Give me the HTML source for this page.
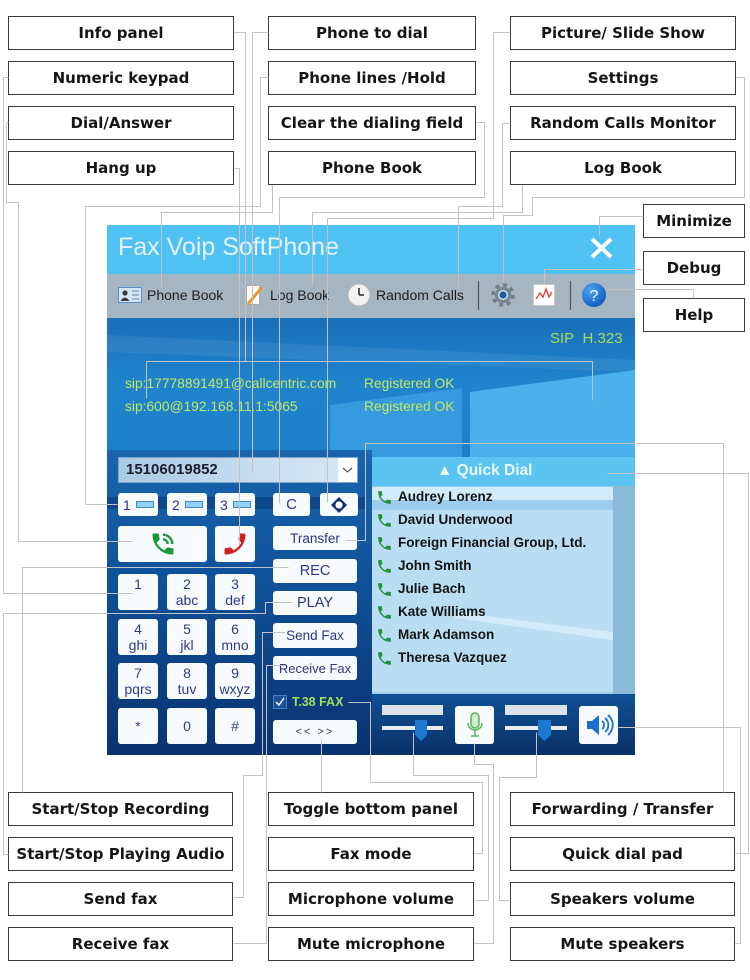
<!DOCTYPE html>
<html><head><meta charset="utf-8">
<style>
*{margin:0;padding:0;box-sizing:border-box}
body{width:750px;height:980px;position:relative;overflow:hidden;background:#fff;font-family:"Liberation Sans",sans-serif}
.lb{position:absolute;height:34px;border:1px solid #3a3a3a;background:#fff;font:bold 15px "DejaVu Sans",sans-serif;color:#151515;display:flex;align-items:center;justify-content:center;white-space:nowrap}
.a{position:absolute;white-space:nowrap}
.btn{position:absolute;background:#f8fbfd;border-radius:3px;color:#2a3787;font-size:14px;display:flex;align-items:center;justify-content:center;white-space:nowrap}
.key{position:absolute;width:40px;height:36px;background:#f8fbfd;border-radius:3px;color:#2c3a8e;font-size:14px;line-height:16px;text-align:center;padding-top:2px}
.kc{display:flex;align-items:center;justify-content:center;padding-top:0}
.lr{display:inline-block;width:18px;height:7px;background:#92d2f6;border:1px solid #3d8dd0;margin-left:5px}
.qd{position:absolute;left:376px;font:bold 13.5px "Liberation Sans",sans-serif;letter-spacing:0;color:#141414;line-height:16px;height:16px;display:flex;align-items:center}
.qd svg{margin-right:5px}
.tb{position:absolute;top:288px;font-size:14px;line-height:14px;color:#1e1e1e}
.sip{position:absolute;font-size:13.8px;line-height:14px;color:#c4e860}
</style></head><body>

<svg class="a" style="left:0;top:0" width="750" height="980">
<defs>
<linearGradient id="gm" x1="0" y1="0" x2="0" y2="1">
<stop offset="0" stop-color="#1a6fb9"/><stop offset="0.15" stop-color="#1f84cd"/><stop offset="0.33" stop-color="#1d7fc8"/><stop offset="0.55" stop-color="#145fa8"/><stop offset="0.8" stop-color="#0d4588"/><stop offset="1" stop-color="#0a336d"/>
</linearGradient>
<linearGradient id="gl" x1="0" y1="0" x2="0" y2="1">
<stop offset="0" stop-color="#1866ae"/><stop offset="0.45" stop-color="#0f5098"/><stop offset="1" stop-color="#0a3270"/>
</linearGradient>
<linearGradient id="gb" x1="0" y1="0" x2="0" y2="1">
<stop offset="0" stop-color="#0f5096"/><stop offset="1" stop-color="#0a3168"/>
</linearGradient>
<radialGradient id="gh" cx="0.35" cy="0.3" r="0.7">
<stop offset="0" stop-color="#4aa6f0"/><stop offset="1" stop-color="#1160c0"/>
</radialGradient>
</defs>
<rect x="107" y="225" width="528" height="49" fill="#4fc1f3"/>
<rect x="107" y="274" width="528" height="44" fill="#a6b5c2"/>
<rect x="107" y="318" width="528" height="437" fill="url(#gm)"/>
<polygon points="107,335 635,360 635,372 107,352" fill="#ffffff" opacity="0.07"/>
<polygon points="330,405 462,388 462,457 330,457" fill="#3a9fe2" opacity="0.85"/>
<polygon points="470,392 635,370 635,457 470,457" fill="#4ab1ec"/>
<rect x="107" y="450" width="265" height="305" fill="url(#gl)"/>
<rect x="107" y="497" width="258" height="12" fill="#0a3a7a" opacity="0.6"/>
<rect x="372" y="457" width="263" height="29" fill="#5bc4f1"/>
<rect x="372" y="486" width="263" height="208" fill="#9ccdec"/>
<rect x="372" y="487" width="241" height="13" fill="#d2ebf8"/>
<rect x="372" y="510" width="241" height="182" fill="#b9def4"/>
<polygon points="455,612 613,632 613,640 455,618" fill="#e6f5fc" opacity="0.6"/>
<rect x="613" y="486" width="22" height="208" fill="#8bb9da"/>
<rect x="372" y="694" width="263" height="61" fill="url(#gb)"/>
<line x1="592" y1="239" x2="611" y2="257" stroke="#fff" stroke-width="4"/>
<line x1="611" y1="239" x2="592" y2="257" stroke="#fff" stroke-width="4"/>
<rect x="118.5" y="287.5" width="23" height="15" fill="#d3e6f7" stroke="#5b8fc6"/>
<circle cx="125" cy="293" r="2.6" fill="#3b3b3b"/><path d="M120.5 301 q4.5 -7 9 0z" fill="#3b3b3b"/>
<line x1="132" y1="291" x2="139" y2="291" stroke="#6a86a8"/><line x1="132" y1="295" x2="139" y2="295" stroke="#6a86a8"/><line x1="132" y1="299" x2="139" y2="299" stroke="#6a86a8"/>
<rect x="246.5" y="285.5" width="13" height="19" fill="#fdfdfd" stroke="#a9a9a9"/>
<line x1="248" y1="304" x2="262" y2="287" stroke="#e79a2a" stroke-width="3"/>
<circle cx="359" cy="295" r="11" fill="#f2f2f2" stroke="#b9b9b9"/>
<line x1="359" y1="295" x2="359" y2="288" stroke="#333" stroke-width="1.6"/><line x1="359" y1="295" x2="364" y2="295" stroke="#333" stroke-width="1.6"/>
<line x1="478.5" y1="281" x2="478.5" y2="310" stroke="#4c5560" stroke-width="1.2"/>
<circle cx="503" cy="295" r="10" fill="none" stroke="#6f7c88" stroke-width="3.5" stroke-dasharray="3.8 4"/>
<circle cx="503" cy="295" r="8.2" fill="#7a8691"/>
<circle cx="503" cy="295" r="5" fill="#dfe6ec"/><circle cx="503" cy="295" r="3.6" fill="#1b5ca8"/>
<rect x="533.5" y="284.5" width="21" height="21" fill="#fff" stroke="#c9c9c9"/>
<polyline points="536,299 540,293 543,297 546,289 549,297 552,292" fill="none" stroke="#e0453a" stroke-width="1.4"/>
<line x1="570.5" y1="281" x2="570.5" y2="310" stroke="#4c5560" stroke-width="1.2"/>
<circle cx="594" cy="295" r="12" fill="url(#gh)"/>
<text x="594" y="301" font-family="Liberation Sans" font-size="16" fill="#fff" text-anchor="middle">?</text>
<rect x="382" y="705" width="61" height="10" fill="#dde3ea"/>
<rect x="382" y="726" width="61" height="4" fill="#e8edf2"/>
<polygon points="415,720 427,720 427,735 421,741 415,735" fill="#1d78d2"/>
<rect x="505" y="705" width="62" height="10" fill="#dde3ea"/>
<rect x="505" y="726" width="62" height="4" fill="#e8edf2"/>
<polygon points="538,720 551,720 551,735 544.5,741 538,735" fill="#1d78d2"/>
<rect x="273.5" y="695.5" width="13" height="13" fill="#1c4f9c" stroke="#4a7fc6"/>
<polyline points="276,702 279,705 284,698" fill="none" stroke="#fff" stroke-width="1.5"/>
</svg>

<div class="a" style="left:118px;top:235px;font-size:25px;line-height:25px;color:#e4f3fb">Fax Voip SoftPhone</div>
<div class="tb" style="left:147px">Phone Book</div>
<div class="tb" style="left:270px">Log Book</div>
<div class="tb" style="left:376px">Random Calls</div>
<div class="a" style="left:550px;top:331px;font-size:15px;line-height:15px;color:#a6dc55">SIP&nbsp; H.323</div>
<div class="sip" style="left:125px;top:377px">sip:17778891491@callcentric.com</div>
<div class="sip" style="left:125px;top:400px">sip:600@192.168.11.1:5065</div>
<div class="sip" style="left:364px;top:377px">Registered OK</div>
<div class="sip" style="left:364px;top:400px">Registered OK</div>

<div class="a" style="left:118px;top:457px;width:240px;height:26px;background:linear-gradient(90deg,#a9c9e4,#c9def0 60%,#d7e7f4);border:1px solid #7fa6cc"></div>
<div class="a" style="left:338px;top:458px;width:19px;height:24px;background:#fff"></div>
<svg class="a" style="left:338px;top:458px" width="19" height="24"><polyline points="5,10 9.5,14 14,10" fill="none" stroke="#555" stroke-width="1.2"/></svg>
<div class="a" style="left:126px;top:462px;font:bold 15px 'Liberation Sans',sans-serif;line-height:15px;color:#1d1d2b">15106019852</div>

<div class="btn" style="left:118px;top:493px;width:40px;height:23px;justify-content:flex-start;padding-left:5px">1<span class="lr"></span></div>
<div class="btn" style="left:167px;top:493px;width:40px;height:23px;justify-content:flex-start;padding-left:5px">2<span class="lr"></span></div>
<div class="btn" style="left:215px;top:493px;width:40px;height:23px;justify-content:flex-start;padding-left:5px">3<span class="lr"></span></div>
<div class="btn" style="left:273px;top:493px;width:37px;height:23px;font-size:15px">C</div>
<div class="btn" style="left:320px;top:493px;width:38px;height:23px"><svg width="18" height="18"><polygon points="9,1 17,9 9,17 1,9" fill="#12307a"/><circle cx="9" cy="9" r="3.6" fill="#fff"/></svg></div>

<div class="btn" style="left:118px;top:526px;width:89px;height:36px"><svg width="28" height="28" viewBox="0 0 24 24"><path fill="#1b9a3b" d="M20 15.5c-1.25 0-2.45-.2-3.570-.57-.35-.11-.74-.03-1.02.24l-2.2 2.2c-2.83-1.44-5.15-3.75-6.59-6.59l2.2-2.21c.28-.26.36-.65.25-1L8.5 4c0-.55-.45-1-1-1H4c-.55 0-1 .45-1 1 0 9.39 7.61 17 17 17 .55 0 1-.45 1-1v-3.5c0-.55-.45-1-1-1zM19 12h2c0-4.97-4.03-9-9-9v2c3.87 0 7 3.13 7 7zm-4 0h2c0-2.76-2.24-5-5-5v2c1.66 0 3 1.34 3 3z"/></svg></div>
<div class="btn" style="left:215px;top:526px;width:40px;height:36px"><svg width="28" height="28" viewBox="0 0 24 24"><g transform="translate(24,0) scale(-1,1)"><path fill="#d11f1f" d="M6.62 10.79c1.44 2.83 3.76 5.14 6.59 6.59l2.2-2.2c.27-.27.67-.36 1.02-.24 1.12.37 2.330.57 3.57.57.55 0 1 .45 1 1V20c0 .55-.45 1-1 1-9.39 0-17-7.610-17-17 0-.55.45-1 1-1h3.5c.55 0 1 .45 1 1 0 1.25.2 2.45.57 3.57.11.35.03.74-.25 1.02l-2.2 2.2z"/></g></svg></div>

<div class="btn" style="left:273px;top:526px;width:84px;height:24px;font-size:13.5px">Transfer</div>
<div class="btn" style="left:273px;top:559px;width:84px;height:24px;font-size:14.5px">REC</div>
<div class="btn" style="left:273px;top:591px;width:84px;height:24px;font-size:14.5px">PLAY</div>
<div class="btn" style="left:273px;top:623px;width:84px;height:25px;font-size:13.5px">Send Fax</div>
<div class="btn" style="left:273px;top:656px;width:84px;height:24px;font-size:13px">Receive Fax</div>
<div class="a" style="left:292px;top:695px;font:bold 12.5px 'Liberation Sans',sans-serif;line-height:14px;color:#9fe05a">T.38 FAX</div>
<div class="btn" style="left:273px;top:720px;width:84px;height:24px;font-size:11px;letter-spacing:2px">&lt;&lt; &gt;&gt;</div>

<div class="key" style="left:118px;top:574px">1</div>
<div class="key" style="left:167px;top:574px">2<br>abc</div>
<div class="key" style="left:215px;top:574px">3<br>def</div>
<div class="key" style="left:118px;top:619px">4<br>ghi</div>
<div class="key" style="left:167px;top:619px">5<br>jkl</div>
<div class="key" style="left:215px;top:619px">6<br>mno</div>
<div class="key" style="left:118px;top:663px">7<br>pqrs</div>
<div class="key" style="left:167px;top:663px">8<br>tuv</div>
<div class="key" style="left:215px;top:663px">9<br>wxyz</div>
<div class="key kc" style="left:118px;top:708px">*</div>
<div class="key kc" style="left:167px;top:708px">0</div>
<div class="key kc" style="left:215px;top:708px">#</div>

<div class="a" style="left:437px;top:463px;font:bold 15.5px 'Liberation Sans',sans-serif;line-height:16px;color:#eaf7fd">&#9650; Quick Dial</div>
<div class="qd" style="top:489px"><svg width="17" height="17" viewBox="0 0 24 24"><path fill="#23923a" d="M6.62 10.79c1.44 2.83 3.76 5.14 6.59 6.59l2.2-2.2c.27-.27.67-.36 1.02-.24 1.12.37 2.33.57 3.57.57.55 0 1 .45 1 1V20c0 .55-.45 1-1 1-9.39 0-17-7.61-17-17 0-.55.45-1 1-1h3.5c.55 0 1 .45 1 1 0 1.25.2 2.45.57 3.57.11.35.03.74-.25 1.02l-2.2 2.2z"/></svg>Audrey Lorenz</div>
<div class="qd" style="top:512px"><svg width="17" height="17" viewBox="0 0 24 24"><path fill="#23923a" d="M6.62 10.79c1.44 2.83 3.76 5.14 6.59 6.59l2.2-2.2c.27-.27.67-.36 1.02-.24 1.12.37 2.33.57 3.57.57.55 0 1 .45 1 1V20c0 .55-.45 1-1 1-9.39 0-17-7.61-17-17 0-.55.45-1 1-1h3.5c.55 0 1 .45 1 1 0 1.25.2 2.45.57 3.57.11.35.03.74-.25 1.02l-2.2 2.2z"/></svg>David Underwood</div>
<div class="qd" style="top:535px"><svg width="17" height="17" viewBox="0 0 24 24"><path fill="#23923a" d="M6.62 10.79c1.44 2.83 3.76 5.14 6.59 6.59l2.2-2.2c.27-.27.67-.36 1.02-.24 1.12.37 2.33.57 3.57.57.55 0 1 .45 1 1V20c0 .55-.45 1-1 1-9.39 0-17-7.61-17-17 0-.55.45-1 1-1h3.5c.55 0 1 .45 1 1 0 1.25.2 2.45.57 3.57.11.35.03.74-.25 1.02l-2.2 2.2z"/></svg>Foreign Financial Group, Ltd.</div>
<div class="qd" style="top:558px"><svg width="17" height="17" viewBox="0 0 24 24"><path fill="#23923a" d="M6.62 10.79c1.44 2.83 3.76 5.14 6.59 6.59l2.2-2.2c.27-.27.67-.36 1.02-.24 1.12.37 2.33.57 3.57.57.55 0 1 .45 1 1V20c0 .55-.45 1-1 1-9.39 0-17-7.61-17-17 0-.55.45-1 1-1h3.5c.55 0 1 .45 1 1 0 1.25.2 2.45.57 3.57.11.35.03.74-.25 1.02l-2.2 2.2z"/></svg>John Smith</div>
<div class="qd" style="top:581px"><svg width="17" height="17" viewBox="0 0 24 24"><path fill="#23923a" d="M6.62 10.79c1.44 2.83 3.76 5.14 6.59 6.59l2.2-2.2c.27-.27.67-.36 1.02-.24 1.12.37 2.33.57 3.57.57.55 0 1 .45 1 1V20c0 .55-.45 1-1 1-9.39 0-17-7.61-17-17 0-.55.45-1 1-1h3.5c.55 0 1 .45 1 1 0 1.25.2 2.45.57 3.57.11.35.03.74-.25 1.02l-2.2 2.2z"/></svg>Julie Bach</div>
<div class="qd" style="top:604px"><svg width="17" height="17" viewBox="0 0 24 24"><path fill="#23923a" d="M6.62 10.79c1.44 2.83 3.76 5.14 6.59 6.59l2.2-2.2c.27-.27.67-.36 1.02-.24 1.12.37 2.33.57 3.57.57.55 0 1 .45 1 1V20c0 .55-.45 1-1 1-9.39 0-17-7.61-17-17 0-.55.45-1 1-1h3.5c.55 0 1 .45 1 1 0 1.25.2 2.45.57 3.57.11.35.03.74-.25 1.02l-2.2 2.2z"/></svg>Kate Williams</div>
<div class="qd" style="top:627px"><svg width="17" height="17" viewBox="0 0 24 24"><path fill="#23923a" d="M6.62 10.79c1.44 2.83 3.76 5.14 6.59 6.59l2.2-2.2c.27-.27.67-.36 1.02-.24 1.12.37 2.33.57 3.57.57.55 0 1 .45 1 1V20c0 .55-.45 1-1 1-9.39 0-17-7.61-17-17 0-.55.45-1 1-1h3.5c.55 0 1 .45 1 1 0 1.25.2 2.45.57 3.57.11.35.03.74-.25 1.02l-2.2 2.2z"/></svg>Mark Adamson</div>
<div class="qd" style="top:650px"><svg width="17" height="17" viewBox="0 0 24 24"><path fill="#23923a" d="M6.62 10.79c1.44 2.83 3.76 5.14 6.59 6.59l2.2-2.2c.27-.27.67-.36 1.02-.24 1.12.37 2.33.57 3.57.57.55 0 1 .45 1 1V20c0 .55-.45 1-1 1-9.39 0-17-7.61-17-17 0-.55.45-1 1-1h3.5c.55 0 1 .45 1 1 0 1.25.2 2.45.57 3.57.11.35.03.74-.25 1.02l-2.2 2.2z"/></svg>Theresa Vazquez</div>

<div class="btn" style="left:455px;top:706px;width:39px;height:38px"><svg width="22" height="28" viewBox="0 0 22 28"><rect x="7" y="2" width="8" height="15" rx="4" fill="#d3ecd2" stroke="#59b65a" stroke-width="1.5"/><path d="M4 12a7 7 0 0 0 14 0" fill="none" stroke="#59b65a" stroke-width="1.5"/><line x1="11" y1="19" x2="11" y2="25" stroke="#59b65a" stroke-width="1.5"/><line x1="7" y1="25" x2="15" y2="25" stroke="#59b65a" stroke-width="1.5"/></svg></div>
<div class="btn" style="left:579px;top:706px;width:39px;height:38px"><svg width="30" height="26" viewBox="0 0 30 26"><polygon points="3,9 8,9 15,3 15,23 8,17 3,17" fill="#1d6fcf"/><path d="M18 9a5 5 0 0 1 0 8" fill="none" stroke="#1d6fcf" stroke-width="1.8"/><path d="M21 6a9 9 0 0 1 0 14" fill="none" stroke="#1d6fcf" stroke-width="1.8"/><path d="M24 3a13 13 0 0 1 0 20" fill="none" stroke="#1d6fcf" stroke-width="1.8"/></svg></div>

<div class="lb" style="left:8px;top:16px;width:226px">Info panel</div>
<div class="lb" style="left:8px;top:61px;width:226px">Numeric keypad</div>
<div class="lb" style="left:8px;top:106px;width:226px">Dial/Answer</div>
<div class="lb" style="left:8px;top:151px;width:226px">Hang up</div>
<div class="lb" style="left:268px;top:16px;width:208px">Phone to dial</div>
<div class="lb" style="left:268px;top:61px;width:208px">Phone lines /Hold</div>
<div class="lb" style="left:268px;top:106px;width:208px">Clear the dialing field</div>
<div class="lb" style="left:268px;top:151px;width:208px">Phone Book</div>
<div class="lb" style="left:510px;top:16px;width:226px">Picture/ Slide Show</div>
<div class="lb" style="left:510px;top:61px;width:226px">Settings</div>
<div class="lb" style="left:510px;top:106px;width:226px">Random Calls Monitor</div>
<div class="lb" style="left:510px;top:151px;width:226px">Log Book</div>
<div class="lb" style="left:643px;top:204px;width:102px">Minimize</div>
<div class="lb" style="left:643px;top:251px;width:102px">Debug</div>
<div class="lb" style="left:643px;top:298px;width:102px">Help</div>
<div class="lb" style="left:8px;top:792px;width:225px">Start/Stop Recording</div>
<div class="lb" style="left:8px;top:837px;width:225px">Start/Stop Playing Audio</div>
<div class="lb" style="left:8px;top:882px;width:225px">Send fax</div>
<div class="lb" style="left:8px;top:927px;width:225px">Receive fax</div>
<div class="lb" style="left:268px;top:792px;width:206px">Toggle bottom panel</div>
<div class="lb" style="left:268px;top:837px;width:206px">Fax mode</div>
<div class="lb" style="left:268px;top:882px;width:206px">Microphone volume</div>
<div class="lb" style="left:268px;top:927px;width:206px">Mute microphone</div>
<div class="lb" style="left:510px;top:792px;width:225px">Forwarding / Transfer</div>
<div class="lb" style="left:510px;top:837px;width:225px">Quick dial pad</div>
<div class="lb" style="left:510px;top:882px;width:225px">Speakers volume</div>
<div class="lb" style="left:510px;top:927px;width:225px">Mute speakers</div>

<svg class="a" style="left:0;top:0" width="750" height="980">
<g fill="none" stroke="#c3c3c3" stroke-width="1" transform="translate(0.5,0.5)">
<polyline points="234,32 245,32 245,361"/>
<polyline points="146,398 146,361 592,361 592,400"/>
<polyline points="8,77 3,77 3,593 132,593"/>
<polyline points="8,122 6,122 6,202 18,202 18,541 132,541"/>
<polyline points="234,168 239,168 239,545"/>
<polyline points="268,32 252,32 252,472"/>
<polyline points="268,77 260,77 260,206 85,206 85,504 117,504"/>
<polyline points="476,122 484,122 484,197 279,197 279,503"/>
<polyline points="272,185 272,212 161,212 161,287"/>
<polyline points="510,32 493,32 493,218 327,218 327,502"/>
<polyline points="736,77 744,77 744,197 532,197 532,215 503,215 503,282"/>
<polyline points="510,123 502,123 502,206 458,206 458,286"/>
<polyline points="522,185 522,212 312,212 312,285"/>
<polyline points="643,216 599,216 599,235"/>
<polyline points="643,269 544,269 544,283"/>
<polyline points="607,289 693,289 693,298"/>
<polyline points="345,540 365,540 365,443 723,443 723,792"/>
<polyline points="607,473 748,473 748,853 735,853"/>
<polyline points="618,727 740,727 740,943 735,943"/>
<polyline points="288,567 22,567 22,792"/>
<polyline points="292,602 265,602 265,613 3,613 3,854 8,854"/>
<polyline points="285,632 262,632 262,775 243,775 243,897 233,897"/>
<polyline points="285,665 266,665 266,943 233,943"/>
<polyline points="321,740 321,792"/>
<polyline points="348,702 370,702 370,782 482,782 482,853 474,853"/>
<polyline points="413,732 413,775 488,775 488,900 474,900"/>
<polyline points="474,743 474,764 493,764 493,943 474,943"/>
<polyline points="536,732 536,777 499,777 499,900 510,900"/>
</g>
</svg>
</body></html>
